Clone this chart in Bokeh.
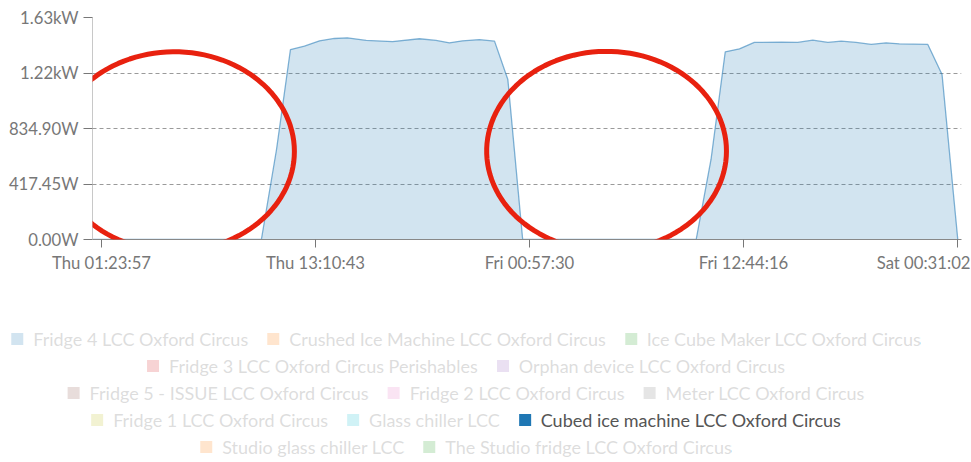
import numpy as np
import pandas as pd
from bokeh.plotting import figure
from bokeh.models import (Range1d, FixedTicker, DatetimeTickFormatter, ColumnDataSource,
                          Legend, LegendItem, PolyAnnotation)
from bokeh.layouts import column
from bokeh.embed import file_html
from bokeh.resources import INLINE

# ---------------- data ----------------
times = [
    "2019-05-16 00:54", "2019-05-16 10:12", "2019-05-16 11:02", "2019-05-16 11:48",
    "2019-05-16 12:34", "2019-05-16 13:24", "2019-05-16 14:13", "2019-05-16 14:56",
    "2019-05-16 15:58", "2019-05-16 17:25", "2019-05-16 18:54", "2019-05-16 19:49",
    "2019-05-16 20:33", "2019-05-16 21:16", "2019-05-16 22:12", "2019-05-16 23:02",
    "2019-05-16 23:46", "2019-05-17 00:35", "2019-05-17 10:08", "2019-05-17 10:57",
    "2019-05-17 11:44", "2019-05-17 12:31", "2019-05-17 13:20", "2019-05-17 14:49",
    "2019-05-17 15:43", "2019-05-17 16:33", "2019-05-17 17:23", "2019-05-17 18:07",
    "2019-05-17 18:56", "2019-05-17 19:46", "2019-05-17 20:35", "2019-05-17 21:19",
    "2019-05-17 22:53", "2019-05-17 23:40", "2019-05-18 00:32",
]
power_w = [
    0, 0, 677, 1429,
    1454, 1494, 1512, 1517,
    1497, 1489, 1510, 1497,
    1479, 1494, 1504, 1492,
    1203, 0, 0, 602,
    1412, 1434, 1482, 1484,
    1482, 1499, 1482, 1492,
    1482, 1467, 1479, 1472,
    1467, 1241, 0,
]

x_tick_times = ["2019-05-16 01:23:57", "2019-05-16 13:10:43", "2019-05-17 00:57:30",
                "2019-05-17 12:44:16", "2019-05-18 00:31:02"]
y_tick_values = [0, 417.45, 834.9, 1252.35, 1669.8]
y_tick_labels = ["0.00W", "417.45W", "834.90W", "1.22kW", "1.63kW"]

series_names = [
    "Fridge 4 LCC Oxford Circus", "Crushed Ice Machine LCC Oxford Circus",
    "Ice Cube Maker LCC Oxford Circus", "Fridge 3 LCC Oxford Circus Perishables",
    "Orphan device LCC Oxford Circus", "Fridge 5 - ISSUE LCC Oxford Circus",
    "Fridge 2 LCC Oxford Circus", "Meter LCC Oxford Circus",
    "Fridge 1 LCC Oxford Circus", "Glass chiller LCC",
    "Cubed ice machine LCC Oxford Circus", "Studio glass chiller LCC",
    "The Studio fridge LCC Oxford Circus",
]
series_colors = ["#1f77b4", "#ff7f0e", "#2ca02c", "#d62728", "#9467bd", "#8c564b",
                 "#e377c2", "#7f7f7f", "#bcbd22", "#17becf", "#1f77b4", "#ff7f0e", "#2ca02c"]
series_active = [False] * 10 + [True] + [False] * 2
legend_rows = [[0, 1, 2], [3, 4], [5, 6, 7], [8, 9, 10], [11, 12]]

# red hand-drawn highlight ellipses: centre time, centre level (W), half-width (h), half-height (W)
highlight_times = ["2019-05-16 05:25", "2019-05-17 05:12"]
highlight_levels = [662, 665]
highlight_half_width_h = 6.6
highlight_half_height_w = 750

# ---------------- main chart ----------------
FONT = "Lato"
src = ColumnDataSource(dict(t=pd.to_datetime(times, format="%Y-%m-%d %H:%M"), w=power_w))

p = figure(width=970, height=325, output_backend="svg", toolbar_location=None,
           x_axis_type="datetime",
           x_range=Range1d(pd.Timestamp("2019-05-16 00:54:14"), pd.Timestamp("2019-05-18 00:44:15")),
           y_range=Range1d(0, 1669.8), frame_align=False,
           min_border_left=92, min_border_right=9, min_border_top=17, min_border_bottom=86)
p.outline_line_color = None
p.background_fill_color = "white"

p.varea(x="t", y1=0, y2="w", source=src, fill_color="#1f77b4", fill_alpha=0.2)
p.line(x="t", y="w", source=src, line_color="#1f77b4", line_alpha=0.55, line_width=1.3)

theta = np.linspace(0, 2 * np.pi, 120)
for ht, hl in zip(pd.to_datetime(highlight_times, format="%Y-%m-%d %H:%M"), highlight_levels):
    cx = ht.value / 1e6
    xs = cx + highlight_half_width_h * 3600e3 * np.cos(theta)
    ys = hl + highlight_half_height_w * np.sin(theta)
    p.add_layout(PolyAnnotation(xs=xs.tolist(), ys=ys.tolist(), fill_alpha=0,
                                line_color="#e8210f", line_alpha=1.0, line_width=5,
                                level="overlay"))

p.xgrid.visible = False
p.ygrid.grid_line_color = "#9a9a9a"
p.ygrid.grid_line_dash = "4 3"
p.ygrid.grid_line_width = 1

xt = (pd.to_datetime(x_tick_times, format="%Y-%m-%d %H:%M:%S").asi8 // 10**6).tolist()
p.xaxis.ticker = FixedTicker(ticks=xt)
fmt = "%a %H:%M:%S"
p.xaxis.formatter = DatetimeTickFormatter(seconds=fmt, minsec=fmt, minutes=fmt, hourmin=fmt,
                                          hours=fmt, days=fmt, months=fmt, years=fmt)
p.yaxis.ticker = FixedTicker(ticks=y_tick_values)
p.yaxis.major_label_overrides = {v: l for v, l in zip(y_tick_values, y_tick_labels)}
p.ygrid.ticker = FixedTicker(ticks=y_tick_values)

for ax in (p.xaxis[0], p.yaxis[0]):
    ax.major_label_text_font = FONT
    ax.major_label_text_font_size = "16.7px"
    ax.major_label_text_color = "#777777"
    ax.major_tick_in = 0
    ax.major_tick_out = 9
    ax.major_tick_line_color = "#777777"
    ax.minor_tick_line_color = None
    ax.major_label_standoff = 5
p.xaxis.axis_line_color = "#888888"
p.yaxis.axis_line_color = "#c8c8c8"
p.xaxis.major_tick_out = 8

# ---------------- legend (one small figure per row, centred) ----------------
rows = []
for row in legend_rows:
    lg = figure(width=930, height=27, output_backend="svg", toolbar_location=None,
                x_range=Range1d(0, 1), y_range=Range1d(0, 1), frame_align=False,
                x_axis_location=None, y_axis_location=None, min_border=0,
                min_border_left=0, min_border_right=0, min_border_top=0, min_border_bottom=0)
    lg.outline_line_color = None
    lg.grid.visible = False
    items = []
    for i in row:
        # zero-size placeholder area: only its legend swatch is seen
        r = lg.varea(x=[0], y1=[0], y2=[0], fill_color=series_colors[i], fill_alpha=1.0)
        r.visible = series_active[i]
        items.append(LegendItem(label=series_names[i], renderers=[r]))
    leg = Legend(items=items, orientation="horizontal", location="center", click_policy="hide",
                 label_text_font=FONT, label_text_font_size="18px", label_text_color="#555555",
                 glyph_width=15, glyph_height=15, label_height=19, label_standoff=9,
                 spacing=17, padding=0, margin=0,
                 border_line_color=None, background_fill_alpha=0,
                 inactive_fill_color="white", inactive_fill_alpha=0.8)
    lg.add_layout(leg, "center")
    rows.append(lg)

layout = column(p, *rows, spacing=0)
open("out.html", "w").write(file_html(layout, INLINE))
